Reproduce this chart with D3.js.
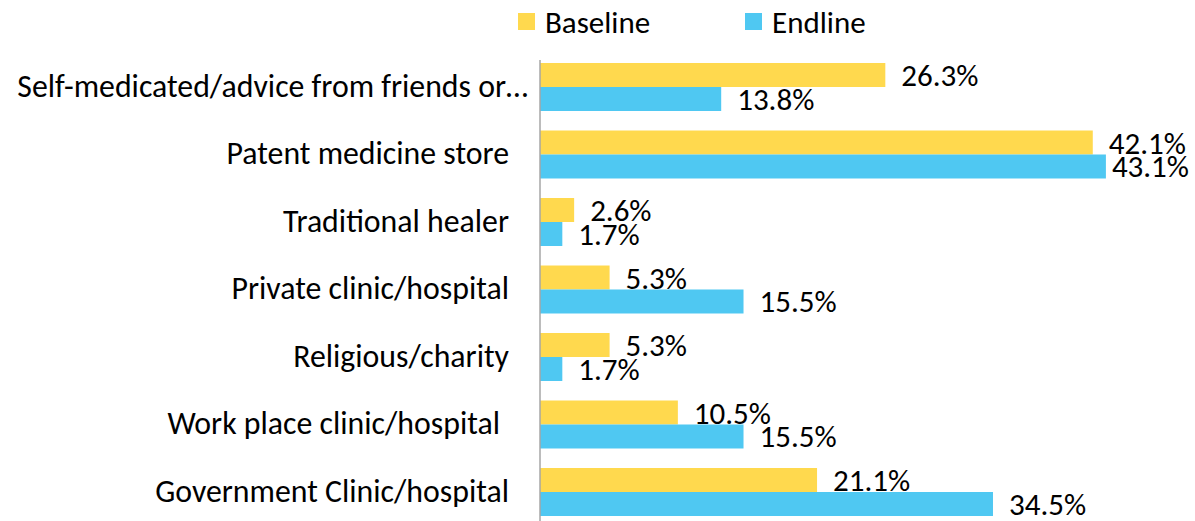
<!DOCTYPE html>
<html>
<head>
  <title>Source of treatment</title>
  <script src="https://d3js.org/d3.v7.min.js"></script>
  <style>
    body { margin: 0; background: #fff; }
    text { font-family: Carlito, Calibri, "Open Sans", sans-serif; fill: #000; }
  </style>
</head>
<body>
<script type="text/javascript">
  var w = 1195;
  var h = 521;

  // data
  var categories = [
    "Self-medicated/advice from friends or\u2026",
    "Patent medicine store",
    "Traditional healer",
    "Private clinic/hospital",
    "Religious/charity",
    "Work place clinic/hospital",
    "Government Clinic/hospital"
  ];
  var seriesNames = ["Baseline", "Endline"];
  var baseline = [26.3, 42.1, 2.6, 5.3, 5.3, 10.5, 21.1];
  var endline = [13.8, 43.1, 1.7, 15.5, 1.7, 15.5, 34.5];

  var colors = { "Baseline": "#FFD94E", "Endline": "#4FC8F2" };
  // some labels had trailing spaces in the original, so they end a bit left
  var labelEnd = { "Self-medicated/advice from friends or\u2026": 528, "Work place clinic/hospital": 500 };

  var rows = categories.map(function(c, i){
    return { cat: c, values: [ { s: "Baseline", v: baseline[i] }, { s: "Endline", v: endline[i] } ] };
  });

  var svg = d3.select("body").append("svg")
    .attr("width", w)
    .attr("height", h);

  var x0 = 540;
  var xScale = d3.scaleLinear()
    .domain([0, 45])
    .range([x0, x0 + 45 * 13.13]);

  var yScale = d3.scaleBand()
    .domain(categories)
    .range([53.25, 525.75])
    .paddingInner(0.289)
    .paddingOuter(0.1445);

  var ySub = d3.scaleBand()
    .domain(seriesNames)
    .range([0, yScale.bandwidth()]);

  var groups = svg.selectAll("g.row")
    .data(rows)
    .enter()
    .append("g")
    .attr("class", "row")
    .attr("transform", function(d){ return "translate(0," + yScale(d.cat) + ")"; });

  groups.selectAll("rect")
    .data(function(d){ return d.values; })
    .enter()
    .append("rect")
    .attr("x", xScale(0))
    .attr("y", function(d){ return ySub(d.s); })
    .attr("width", function(d){ return xScale(d.v) - xScale(0); })
    .attr("height", ySub.bandwidth())
    .attr("fill", function(d){ return colors[d.s]; });

  // value labels, pushed back in if they would run off the right edge
  groups.selectAll("text.val")
    .data(function(d){ return d.values; })
    .enter()
    .append("text")
    .attr("class", "val")
    .style("font-size", "31px")
    .attr("dominant-baseline", "central")
    .attr("y", function(d){ return ySub(d.s) + ySub.bandwidth() / 2; })
    .text(function(d){ return d.v.toFixed(1) + "%"; })
    .attr("x", function(d){
      var tw = this.getComputedTextLength();
      return Math.min(xScale(d.v) + 16, w - 6 - tw);
    });

  // category labels
  svg.selectAll("text.cat")
    .data(categories)
    .enter()
    .append("text")
    .attr("class", "cat")
    .style("font-size", "31.8px")
    .attr("text-anchor", "end")
    .attr("dominant-baseline", "central")
    .attr("x", function(d){ return labelEnd[d] || 509; })
    .attr("y", function(d){ return yScale(d) + yScale.bandwidth() / 2 - 1; })
    .text(function(d){ return d; });

  // vertical axis line
  svg.append("line")
    .attr("x1", x0).attr("x2", x0)
    .attr("y1", 60).attr("y2", h)
    .attr("stroke", "#A6A6A6")
    .attr("stroke-width", 1.5);

  // legend
  var legendX = { "Baseline": 518, "Endline": 745 };
  var legend = svg.selectAll("g.legend")
    .data(seriesNames)
    .enter()
    .append("g")
    .attr("class", "legend")
    .attr("transform", function(d){ return "translate(" + legendX[d] + ",13)"; });
  legend.append("rect")
    .attr("width", 17).attr("height", 17)
    .attr("fill", function(d){ return colors[d]; });
  legend.append("text")
    .attr("x", 27)
    .attr("y", 9)
    .attr("dominant-baseline", "central")
    .style("font-size", "31px")
    .text(function(d){ return d; });
</script>
</body>
</html>
